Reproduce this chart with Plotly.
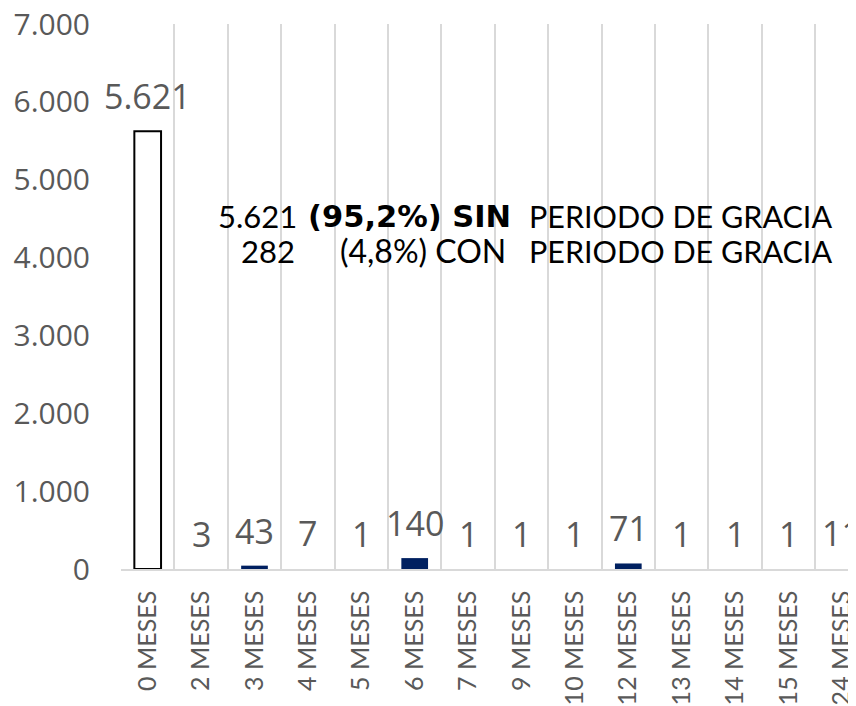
import plotly.graph_objects as go

categories = ["0 MESES", "2 MESES", "3 MESES", "4 MESES", "5 MESES", "6 MESES", "7 MESES",
              "9 MESES", "10 MESES", "12 MESES", "13 MESES", "14 MESES", "15 MESES", "24 MESES"]
values = [5621, 3, 43, 7, 1, 140, 1, 1, 1, 71, 1, 1, 1, 11]
y_ticks = [0, 1000, 2000, 3000, 4000, 5000, 6000, 7000]
Y_MAX = 7000

def fmt(v):
    return f"{v:,}".replace(",", ".")

# page body has an 8px default margin; compensate in the figure margins
OFF = 8
L, T, B_SCREEN = 121, 24, 569
ML, MT = L - OFF, T - OFF
MB = 706 - (B_SCREEN - OFF)
MR = OFF
PW = 856 - ML - MR
PH = 706 - MT - MB

NAVY = "#002060"
fill_colors, line_colors, line_widths = [], [], []
for i, v in enumerate(values):
    if i == 0:
        fill_colors.append("#ffffff"); line_colors.append("#000000"); line_widths.append(2)
    elif v / Y_MAX * PH < 1:   # sub-pixel bars are not visible in the original
        fill_colors.append("rgba(0,0,0,0)"); line_colors.append("rgba(0,0,0,0)"); line_widths.append(0)
    else:
        fill_colors.append(NAVY); line_colors.append(NAVY); line_widths.append(0)

fig = go.Figure()
fig.add_trace(go.Bar(
    x=categories, y=values, width=0.5,
    marker=dict(color=fill_colors, line=dict(color=line_colors, width=line_widths)),
    hoverinfo="x+y",
))

for c, v in zip(categories, values):
    fig.add_annotation(x=c, y=v, text=fmt(v), showarrow=False, yanchor="bottom",
                       yshift=10, font=dict(family="Open Sans", size=34, color="#595959"))

def px(xs):
    return (xs - L) / PW

def py(ys):
    return (B_SCREEN - ys) / PH

reg = dict(family="Lato", size=31, color="#000000")
reg2 = dict(family="Lato", size=30.5, color="#000000")
reg3 = dict(family="Lato", size=32, color="#000000")
bold = dict(family="DejaVu Sans", size=30.5, color="#000000", weight="bold")
segments = [
    ("5.621", 217, 216, reg),
    ("(95,2%) SIN", 307, 216, bold),
    ("PERIODO DE GRACIA", 528, 216, reg2),
    ("282", 240, 251, reg),
    ("(4,8%) CON", 339, 251, reg3),
    ("PERIODO DE GRACIA", 528, 251, reg2),
]
for txt, xs, ys, f in segments:
    fig.add_annotation(xref="paper", yref="paper", x=px(xs), y=py(ys),
                       xanchor="left", yanchor="middle", showarrow=False, font=f,
                       text=txt, borderpad=0)

fig.update_layout(
    width=856, height=706,
    margin=dict(l=ML, r=MR, t=MT, b=MB),
    plot_bgcolor="#ffffff", paper_bgcolor="#ffffff",
    separators=",.",
    showlegend=False,
)
fig.update_xaxes(
    type="category", range=[-0.5, -0.5 + PW / 53.4], automargin=False,
    tickson="boundaries", showgrid=True, gridcolor="#d9d9d9", gridwidth=1.5,
    showline=True, linecolor="#d9d9d9", linewidth=1.5,
    ticks="", tickangle=-90, ticklabelstandoff=10, ticklabeloverflow="allow",
    tickfont=dict(family="Lato", size=25, color="#595959"),
)
fig.update_yaxes(
    range=[0, Y_MAX], tickvals=y_ticks, ticktext=[fmt(t) for t in y_ticks], automargin=False,
    showgrid=False, zeroline=False, showline=False,
    ticks="", ticklabelstandoff=30, ticklabeloverflow="allow",
    tickfont=dict(family="Open Sans", size=30, color="#595959"),
)

fig.write_html("out.html")
